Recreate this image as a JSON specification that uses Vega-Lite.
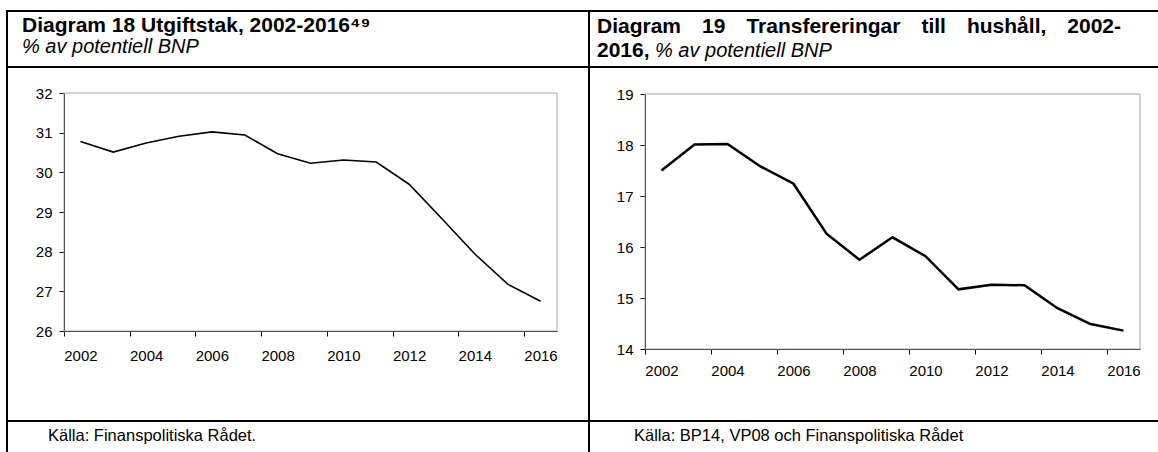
{
  "$schema": "https://vega.github.io/schema/vega-lite/v6.json",
  "background": "white",
  "padding": {"left": 6, "top": 10, "right": -2, "bottom": -2},
  "config": {
    "font": "Liberation Sans",
    "view": {"stroke": "black", "strokeWidth": 2},
    "axis": {"domainColor": "black", "tickColor": "black", "labelColor": "black", "grid": false, "title": null, "labelFont": "Liberation Sans", "zindex": 1},
    "title": {"color": "black", "subtitleColor": "black", "font": "Liberation Sans", "subtitleFont": "Liberation Sans"}
  },
  "datasets": {
    "utgift": [
      {"year": 2002, "value": 30.78}, {"year": 2003, "value": 30.51}, {"year": 2004, "value": 30.74},
      {"year": 2005, "value": 30.91}, {"year": 2006, "value": 31.02}, {"year": 2007, "value": 30.94},
      {"year": 2008, "value": 30.47}, {"year": 2009, "value": 30.23}, {"year": 2010, "value": 30.31},
      {"year": 2011, "value": 30.26}, {"year": 2012, "value": 29.70}, {"year": 2013, "value": 28.83},
      {"year": 2014, "value": 27.94}, {"year": 2015, "value": 27.18}, {"year": 2016, "value": 26.75}
    ],
    "transf": [
      {"year": 2002, "value": 17.50}, {"year": 2003, "value": 18.01}, {"year": 2004, "value": 18.02},
      {"year": 2005, "value": 17.58}, {"year": 2006, "value": 17.24}, {"year": 2007, "value": 16.26},
      {"year": 2008, "value": 15.75}, {"year": 2009, "value": 16.19}, {"year": 2010, "value": 15.82},
      {"year": 2011, "value": 15.17}, {"year": 2012, "value": 15.26}, {"year": 2013, "value": 15.25},
      {"year": 2014, "value": 14.80}, {"year": 2015, "value": 14.49}, {"year": 2016, "value": 14.36}
    ]
  },
  "spacing": 0,
  "bounds": "flush",
  "align": "each",
  "columns": 2,
  "concat": [
    {
      "width": 582, "height": 56,
      "data": {"values": [{}]},
      "mark": {"type": "point", "opacity": 0, "size": 0},
      "encoding": {
        "x": {"datum": 0, "type": "quantitative", "axis": null},
        "y": {"datum": 0, "type": "quantitative", "axis": null}
      },
      "title": {
        "text": "Diagram 18 Utgiftstak, 2002-2016⁴⁹",
        "subtitle": "% av potentiell BNP",
        "orient": "bottom", "anchor": "start", "frame": "group",
        "offset": -52, "dx": 15,
        "fontSize": 21, "fontWeight": "bold", "lineHeight": 25,
        "subtitleFontSize": 20, "subtitleFontStyle": "italic", "subtitleLineHeight": 25, "subtitlePadding": 1
      }
    },
    {
      "width": 570, "height": 56,
      "data": {"values": [{}]},
      "mark": {"type": "point", "opacity": 0, "size": 0},
      "encoding": {
        "x": {"datum": 0, "type": "quantitative", "axis": null},
        "y": {"datum": 0, "type": "quantitative", "axis": null}
      },
      "title": {
        "text": ["Diagram\u200319\u2003Transfereringar\u2003till\u2003hushåll,\u20032002-", "2016,"],
        "orient": "bottom", "anchor": "start", "frame": "group",
        "offset": -51, "dx": 8,
        "fontSize": 21, "fontWeight": "bold", "lineHeight": 24
      }
    },
    {
      "width": 582, "height": 354,
      "layer": [
        {
          "data": {"values": [{}]},
          "mark": {"type": "rect", "fill": "transparent", "stroke": "#a6a6a6", "strokeWidth": 1},
          "encoding": {
            "x": {"datum": 2001.5, "type": "quantitative"},
            "x2": {"datum": 2016.5},
            "y": {"datum": 26, "type": "quantitative"},
            "y2": {"datum": 32}
          }
        },
        {
          "data": {"name": "utgift"},
          "mark": {"type": "line", "color": "black", "strokeWidth": 1.6},
          "encoding": {
            "x": {
              "field": "year", "type": "quantitative",
              "scale": {"domain": [2001.5, 2016.5], "range": [57, 550], "nice": false, "zero": false},
              "axis": {
                "orient": "bottom", "offset": -90,
                "values": [2001.5, 2003.5, 2005.5, 2007.5, 2009.5, 2011.5, 2013.5, 2015.5],
                "labelExpr": "format(datum.value + 0.5, 'd')",
                "labelOffset": 16.4, "tickSize": 5, "labelFontSize": 15, "labelPadding": 12,
                "labelFlush": false, "labelOverlap": false, "labelBound": false
              }
            },
            "y": {
              "field": "value", "type": "quantitative",
              "scale": {"domain": [26, 32], "range": [264, 26], "nice": false, "zero": false},
              "axis": {"orient": "left", "offset": -57, "values": [26, 27, 28, 29, 30, 31, 32], "format": "d", "tickSize": 5, "labelFontSize": 15, "labelPadding": 7}
            }
          }
        }
      ]
    },
    {
      "width": 570, "height": 354,
      "title": {
        "text": "% av potentiell BNP",
        "orient": "top", "anchor": "start", "frame": "group",
        "offset": 6, "dx": 66,
        "fontSize": 20, "fontStyle": "italic", "fontWeight": "normal"
      },
      "layer": [
        {
          "data": {"values": [{}]},
          "mark": {"type": "rect", "fill": "transparent", "stroke": "#a6a6a6", "strokeWidth": 1},
          "encoding": {
            "x": {"datum": 2001.5, "type": "quantitative"},
            "x2": {"datum": 2016.5},
            "y": {"datum": 14, "type": "quantitative"},
            "y2": {"datum": 19}
          }
        },
        {
          "data": {"name": "transf"},
          "mark": {"type": "line", "color": "black", "strokeWidth": 2.5},
          "encoding": {
            "x": {
              "field": "year", "type": "quantitative",
              "scale": {"domain": [2001.5, 2016.5], "range": [56, 551], "nice": false, "zero": false},
              "axis": {
                "orient": "bottom", "offset": -72,
                "values": [2001.5, 2003.5, 2005.5, 2007.5, 2009.5, 2011.5, 2013.5, 2015.5],
                "labelExpr": "format(datum.value + 0.5, 'd')",
                "labelOffset": 16.5, "tickSize": 5, "labelFontSize": 15, "labelPadding": 9,
                "labelFlush": false, "labelOverlap": false, "labelBound": false
              }
            },
            "y": {
              "field": "value", "type": "quantitative",
              "scale": {"domain": [14, 19], "range": [282, 27], "nice": false, "zero": false},
              "axis": {"orient": "left", "offset": -56, "values": [14, 15, 16, 17, 18, 19], "format": "d", "tickSize": 5, "labelFontSize": 15, "labelPadding": 7}
            }
          }
        }
      ]
    },
    {
      "width": 582, "height": 32,
      "data": {"values": [{}]},
      "mark": {"type": "point", "opacity": 0, "size": 0},
      "encoding": {
        "x": {"datum": 0, "type": "quantitative", "axis": null},
        "y": {"datum": 0, "type": "quantitative", "axis": null}
      },
      "title": {
        "text": "Källa: Finanspolitiska Rådet.",
        "orient": "bottom", "anchor": "start", "frame": "group",
        "offset": -25, "dx": 41, "fontSize": 16.5, "fontWeight": "normal"
      }
    },
    {
      "width": 570, "height": 32,
      "data": {"values": [{}]},
      "mark": {"type": "point", "opacity": 0, "size": 0},
      "encoding": {
        "x": {"datum": 0, "type": "quantitative", "axis": null},
        "y": {"datum": 0, "type": "quantitative", "axis": null}
      },
      "title": {
        "text": "Källa: BP14, VP08 och Finanspolitiska Rådet",
        "orient": "bottom", "anchor": "start", "frame": "group",
        "offset": -25, "dx": 45, "fontSize": 16.5, "fontWeight": "normal"
      }
    }
  ]
}
